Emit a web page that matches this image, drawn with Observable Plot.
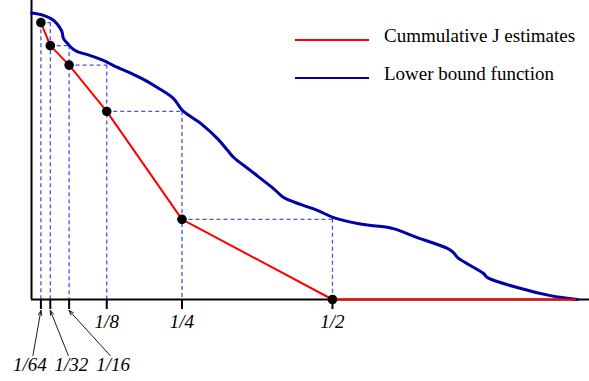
<!DOCTYPE html>
<html>
<head>
<meta charset="utf-8">
<script src="https://cdn.jsdelivr.net/npm/d3@7"></script>
<script src="https://cdn.jsdelivr.net/npm/@observablehq/plot@0.6"></script>
<style>
  html, body { margin: 0; padding: 0; background: #fff; }
  #wrap { position: relative; width: 589px; height: 381px; }
  #legend { position: absolute; left: 0; top: 0; pointer-events: none; }
  svg text { font-family: "Liberation Serif", "DejaVu Serif", serif; }
</style>
</head>
<body>
<div id="wrap"></div>
<script>
// ---- Data ----
const jX = [1/64, 1/32, 1/16, 1/8, 1/4, 1/2];
const jY = [0.926, 0.849, 0.784, 0.629, 0.268, 0];
const jTailX = 0.904;

const boundX = [0, 0.020, 0.037, 0.048, 0.051, 0.053, 0.060, 0.068, 0.076, 0.093, 0.115, 0.126, 0.143, 0.169, 0.186, 0.209, 0.236, 0.251, 0.281, 0.309, 0.326, 0.336, 0.364, 0.402, 0.419, 0.447, 0.475, 0.502, 0.542, 0.568, 0.601, 0.641, 0.691, 0.701, 0.708, 0.751, 0.757, 0.807, 0.862, 0.907];
const boundY = [0.958, 0.950, 0.933, 0.906, 0.893, 0.873, 0.856, 0.839, 0.829, 0.819, 0.803, 0.793, 0.776, 0.753, 0.736, 0.709, 0.672, 0.632, 0.589, 0.538, 0.498, 0.475, 0.431, 0.371, 0.341, 0.318, 0.298, 0.274, 0.254, 0.247, 0.237, 0.207, 0.171, 0.157, 0.140, 0.087, 0.074, 0.040, 0.013, 0];

const tickValues = [1/64, 1/32, 1/16, 1/8, 1/4, 1/2];
const mainTickValues = [1/8, 1/4, 1/2];
const mainTickLabels = ["1/8", "1/4", "1/2"];
const calloutValues = [1/64, 1/32, 1/16];
const calloutLabels = ["1/64", "1/32", "1/16"];
const seriesNames = ["Cummulative J estimates", "Lower bound function"];

// ---- Layout ----
const W = 589, H = 381, mL = 31, mB = 82;
const xMax = 0.927;
const ppuX = (W - mL) / xMax;       // pixels per x unit
const ppuY = (H - mB) / 1;          // pixels per y unit
const labelShift = [-11, 21, 44];   // px, callout label centre relative to tick
const arrowShift = [-8, 18, 41];    // px, arrow start relative to tick
const serif = "Liberation Serif";
const dashColor = "#2424d8";
const FS = 19;

const jPts = jX.map((x, i) => ({x, y: jY[i]}));
const jLine = [...jPts, {x: jTailX, y: 0}];
const bound = boundX.map((x, i) => ({x, y: boundY[i]}));

const hDash = jPts.slice(0, -1).map((p, i) => ({x1: p.x, x2: jPts[i + 1].x, y: p.y}));
const vDash = [{x: jPts[0].x, y1: jPts[0].y, y2: 0},
  ...jPts.slice(0, -1).map((p, i) => ({x: jPts[i + 1].x, y1: p.y, y2: 0}))];

const callouts = calloutValues.map((v, i) => ({
  v, label: calloutLabels[i],
  lx: v + labelShift[i] / ppuX,
  ax: v + arrowShift[i] / ppuX
}));

const chart = Plot.plot({
  width: W, height: H,
  marginLeft: mL, marginRight: 0, marginTop: 0, marginBottom: mB,
  x: {domain: [0, xMax], axis: null},
  y: {domain: [0, 1], axis: null},
  style: {fontFamily: serif, background: "white"},
  marks: [
    Plot.ruleY(hDash, {x1: "x1", x2: "x2", y: "y", stroke: dashColor, strokeWidth: 1.3, strokeOpacity: 0.8, strokeDasharray: "4,3"}),
    Plot.ruleX(vDash, {x: "x", y1: "y1", y2: "y2", stroke: dashColor, strokeWidth: 1.3, strokeOpacity: 0.8, strokeDasharray: "4,3"}),
    Plot.ruleY([0], {stroke: "black", strokeWidth: 2}),
    Plot.ruleX([0], {stroke: "black", strokeWidth: 2}),
    Plot.axisX({ticks: tickValues, tickSize: 10, strokeWidth: 2, stroke: "black", tickFormat: () => "", label: null}),
    Plot.line(bound, {x: "x", y: "y", stroke: "#0000aa", strokeWidth: 3, curve: "catmull-rom"}),
    Plot.line(jLine, {x: "x", y: "y", stroke: "#ff0000", strokeWidth: 2}),
    Plot.dot(jPts, {x: "x", y: "y", r: 4.8, fill: "black", stroke: "none"}),
    Plot.text(mainTickValues, {x: d => d, y: 0, text: (d, i) => mainTickLabels[i], dy: 28, lineAnchor: "bottom", fontSize: FS, fontStyle: "italic", fontFamily: serif, fill: "black"}),
    Plot.text(callouts, {x: "lx", y: 0, text: "label", dy: 71, lineAnchor: "bottom", fontSize: FS, fontStyle: "italic", fontFamily: serif, fill: "black"}),
    Plot.arrow(callouts, {x1: "ax", y1: -56 / ppuY, x2: "v", y2: -11 / ppuY, stroke: "black", strokeWidth: 0.9, headLength: 8, headAngle: 40})
  ]
});

const wrap = document.getElementById("wrap");
wrap.appendChild(chart);

// Legend overlay
const ns = "http://www.w3.org/2000/svg";
const leg = document.createElementNS(ns, "svg");
leg.setAttribute("id", "legend");
leg.setAttribute("width", W);
leg.setAttribute("height", 100);
const legendItems = [
  {name: seriesNames[0], color: "#ff0000", y: 40},
  {name: seriesNames[1], color: "#0000aa", y: 78}
];
for (const it of legendItems) {
  const ln = document.createElementNS(ns, "line");
  ln.setAttribute("x1", 295); ln.setAttribute("x2", 369);
  ln.setAttribute("y1", it.y); ln.setAttribute("y2", it.y);
  ln.setAttribute("stroke", it.color); ln.setAttribute("stroke-width", 2);
  leg.appendChild(ln);
  const tx = document.createElementNS(ns, "text");
  tx.setAttribute("x", 384); tx.setAttribute("y", it.y + 2);
  tx.setAttribute("font-size", FS);
  tx.setAttribute("font-family", serif);
  tx.setAttribute("fill", "black");
  tx.textContent = it.name;
  leg.appendChild(tx);
}
wrap.appendChild(leg);
</script>
</body>
</html>
